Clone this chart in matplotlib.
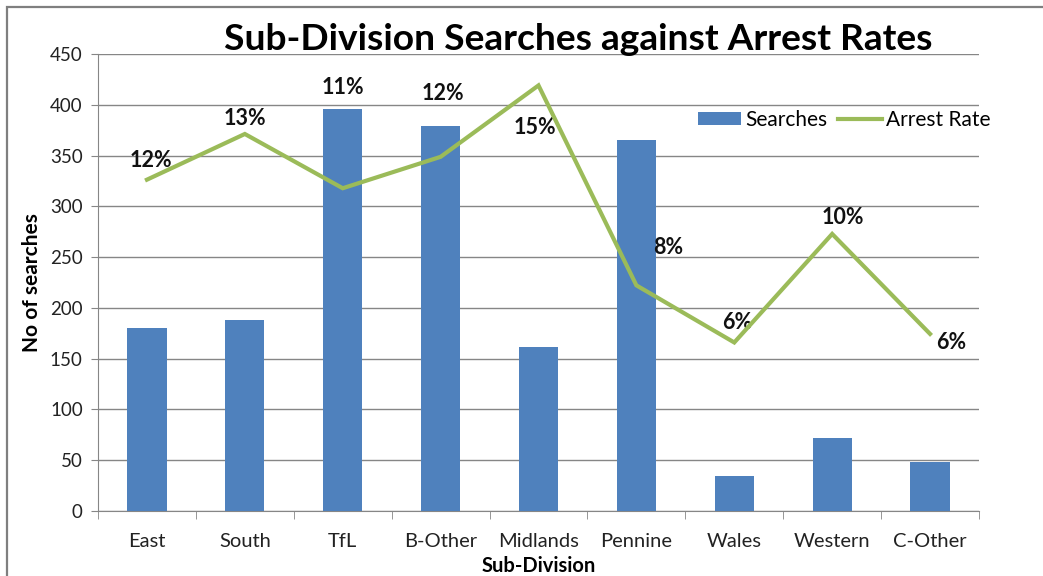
import matplotlib
matplotlib.use("Agg")
import matplotlib.pyplot as plt
from matplotlib.patches import Rectangle
from matplotlib.lines import Line2D
from matplotlib.patches import Patch

categories = ["East", "South", "TfL", "B-Other", "Midlands", "Pennine", "Wales", "Western", "C-Other"]
searches = [180, 188, 396, 379, 161, 365, 34, 72, 48]
arrest_rate = [11.6, 13.2, 11.3, 12.4, 14.9, 7.9, 5.9, 9.7, 6.2]  # percent

# label offsets in pixels (dx, dy) relative to each point
label_offsets = [(4, 19), (0, 15), (0, 101), (2, 63), (-4, -42), (32, 38), (3, 20), (11, 16), (21, -9)]

plt.rcParams['font.family'] = ['Lato', 'DejaVu Sans']

fig = plt.figure(figsize=(10.43, 5.76), dpi=100)
ax = fig.add_axes([98/1043, 1-511/576, (979-98)/1043, (511-54)/576])

x = list(range(len(categories)))
bar_col = "#4F81BD"
line_col = "#9BBB59"
grid_col = "#868686"

ax.bar(x, searches, width=0.4, color=bar_col, zorder=3)
ax.set_xlim(-0.5, len(categories) - 0.5)
ax.set_ylim(0, 450)
ax.set_yticks(range(0, 451, 50))
ax.yaxis.grid(True, color=grid_col, linewidth=1.0, zorder=0)
ax.set_axisbelow(True)
for s in ["top", "right"]:
    ax.spines[s].set_visible(False)
ax.spines["left"].set_color(grid_col)
ax.spines["bottom"].set_color(grid_col)
ax.tick_params(axis="y", length=5, color=grid_col, labelsize=13.5, labelcolor="#222222", pad=6)
ax.set_xticks(x)
ax.set_xticklabels(categories)
ax.tick_params(axis="x", length=0, labelsize=14.5, labelcolor="#222222", pad=16)
ax.set_xticks([i + 0.5 for i in range(-1, len(categories))], minor=True)
ax.tick_params(axis="x", which="minor", length=6, color=grid_col)

ax.set_ylabel("No of searches", fontsize=15, fontweight="bold", labelpad=6)
ax.set_xlabel("Sub-Division", fontsize=14.5, fontweight="bold", labelpad=4)

ax2 = ax.twinx()
ax2.set_ylim(0, 16)
ax2.axis("off")
ax2.plot(x, arrest_rate, color=line_col, linewidth=3.0, solid_joinstyle="miter", zorder=4)
for xi, r, (dx, dy) in zip(x, arrest_rate, label_offsets):
    ax2.annotate(f"{r:.0f}%", (xi, r), xytext=(dx, dy), textcoords="offset pixels",
                 ha="center", va="center", fontsize=15.5, fontweight="bold", color="#111111")

handles = [Patch(facecolor=bar_col, label="Searches"),
           Line2D([0], [0], color=line_col, linewidth=3.0, label="Arrest Rate")]
fig.legend(handles=handles, loc="center", bbox_to_anchor=(844/1043, 1-120/576), ncol=2,
           frameon=False, fontsize=15, handlelength=2.1, handletextpad=0.2, columnspacing=0.5,
           handleheight=0.55)

fig.text(578/1043, 1-40/576, "Sub-Division Searches against Arrest Rates", ha="center", va="center",
         fontsize=26.7, fontweight="bold", color="black")

fig.patches.append(Rectangle((7/1043, -0.2), 1.5, 1 - 7/576 + 0.2, transform=fig.transFigure,
                             fill=False, edgecolor="#7f7f7f", linewidth=1.6, figure=fig))

fig.savefig("out.png", dpi=100)
